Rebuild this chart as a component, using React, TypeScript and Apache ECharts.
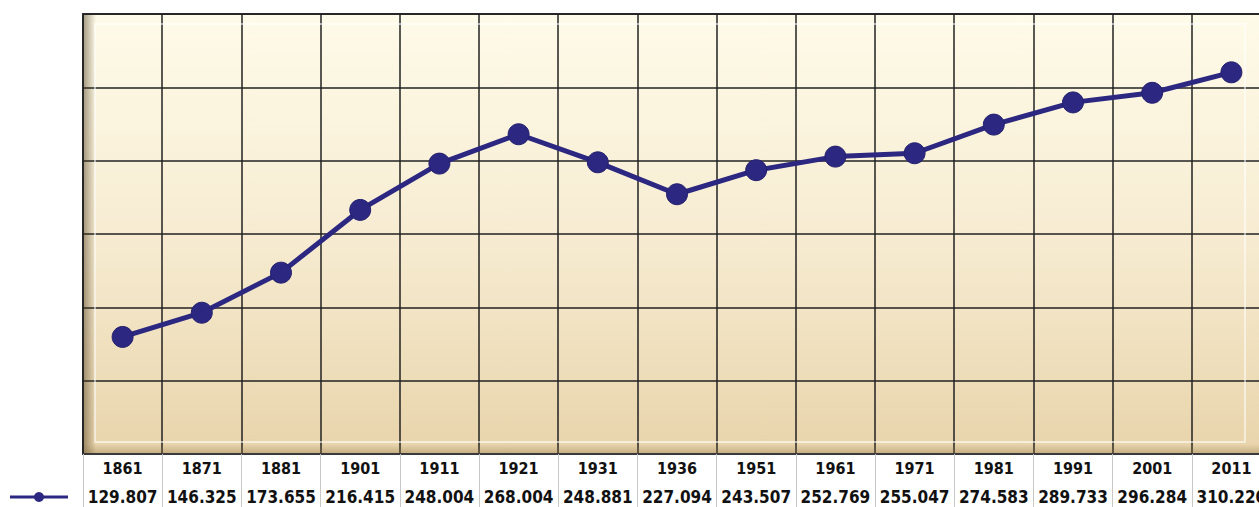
import React, { useEffect, useRef } from "react";
import * as echarts from "echarts";

const years = ["1861", "1871", "1881", "1901", "1911", "1921", "1931", "1936", "1951", "1961", "1971", "1981", "1991", "2001", "2011"];
const population = [129.807, 146.325, 173.655, 216.415, 248.004, 268.004, 248.881, 227.094, 243.507, 252.769, 255.047, 274.583, 289.733, 296.284, 310.22];
const valueLabels = population.map((v) => v.toFixed(3));
const yMin = 50;
const yMax = 350;
const yStep = 50;

const NAVY = "#2c2882";
const FONT = "'Liberation Sans Narrow', 'Arial Narrow', 'DejaVu Sans Condensed', sans-serif";

export default function App() {
  const ref = useRef<HTMLDivElement>(null);
  useEffect(() => {
    if (!ref.current) return;
    const chart = echarts.init(ref.current, null, { renderer: "svg" });
    const gl = 83, gt = 14, gw = 1188, gh = 440;
    chart.setOption({
      animation: false,
      backgroundColor: "#ffffff",
      grid: {
        left: gl,
        top: gt,
        width: gw,
        height: gh,
        show: true,
        borderColor: "#3a3a3a",
        borderWidth: 2,
        backgroundColor: new echarts.graphic.LinearGradient(0, 0, 0, 1, [
          { offset: 0, color: "#fefbe9" },
          { offset: 0.5, color: "#f7ecd2" },
          { offset: 1, color: "#e8d4ab" },
        ]),
      },
      xAxis: [
        {
          type: "category",
          data: years,
          position: "bottom",
          boundaryGap: true,
          axisLine: { show: true, lineStyle: { color: "#3a3a3a", width: 2 } },
          axisTick: { show: true, length: 53, lineStyle: { color: "#c8c8c8", width: 1 } },
          axisLabel: { interval: 0, margin: 6, color: "#111111", fontFamily: FONT, fontWeight: "bold", fontSize: 16 },
          splitLine: { show: true, lineStyle: { color: "#222222", width: 1.5 } },
        },
        {
          type: "category",
          data: valueLabels,
          position: "bottom",
          offset: 29,
          boundaryGap: true,
          axisLine: { show: false },
          axisTick: { show: false },
          axisLabel: { interval: 0, margin: 5, color: "#111111", fontFamily: FONT, fontWeight: "bold", fontSize: 17 },
          splitLine: { show: false },
        },
      ],
      yAxis: {
        type: "value",
        min: yMin,
        max: yMax,
        interval: yStep,
        axisLabel: { show: false },
        axisLine: { show: false },
        axisTick: { show: false },
        splitLine: { show: true, lineStyle: { color: "#222222", width: 1.5 } },
      },
      graphic: [
        {
          type: "rect",
          z: 1,
          silent: true,
          shape: { x: gl + 1, y: gt + 1, width: 12, height: gh - 2 },
          style: {
            fill: new echarts.graphic.LinearGradient(0, 0, 1, 0, [
              { offset: 0, color: "rgba(70,50,20,0.45)" },
              { offset: 1, color: "rgba(70,50,20,0)" },
            ]),
          },
        },
        {
          type: "rect",
          z: 1,
          silent: true,
          shape: { x: gl + 12, y: gt + 10, width: 1150, height: gh - 22 },
          style: { fill: "none", stroke: "rgba(255,255,255,0.55)", lineWidth: 2 },
        },
        {
          type: "rect",
          z: 1,
          silent: true,
          shape: { x: gl + 1, y: gt + gh - 10, width: gw - 2, height: 9 },
          style: {
            fill: new echarts.graphic.LinearGradient(0, 0, 0, 1, [
              { offset: 0, color: "rgba(140,110,60,0)" },
              { offset: 1, color: "rgba(140,110,60,0.35)" },
            ]),
          },
        },
        {
          type: "line",
          z: 10,
          shape: { x1: 10, y1: 497, x2: 68, y2: 497 },
          style: { stroke: NAVY, lineWidth: 3 },
        },
        {
          type: "circle",
          z: 11,
          shape: { cx: 39, cy: 497, r: 5 },
          style: { fill: NAVY },
        },
      ],
      series: [
        {
          type: "line",
          xAxisIndex: 0,
          data: population,
          symbol: "circle",
          symbolSize: 21,
          lineStyle: { color: NAVY, width: 5 },
          itemStyle: { color: NAVY, borderColor: "#24206e", borderWidth: 1 },
          z: 5,
        },
      ],
    });
    return () => chart.dispose();
  }, []);
  return (
    <div
      ref={ref}
      style={{ position: "fixed", left: 0, top: 0, width: 1290, height: 507 }}
    />
  );
}
